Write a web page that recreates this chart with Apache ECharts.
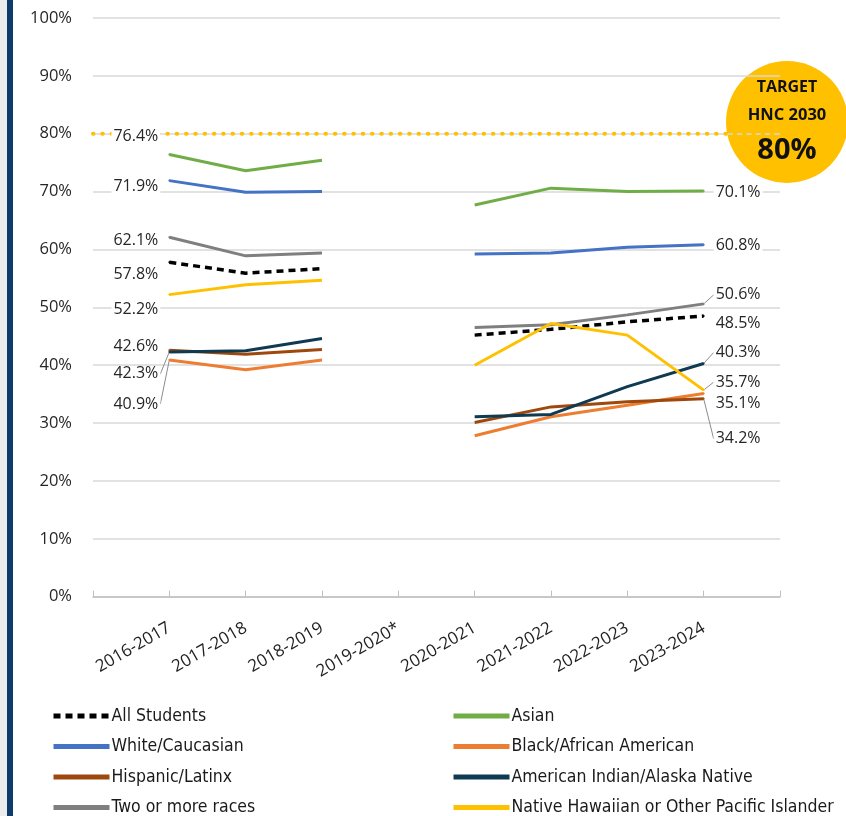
<!DOCTYPE html>
<html><head><meta charset="utf-8">
<script src="https://cdn.jsdelivr.net/npm/echarts@6/dist/echarts.min.js"></script>
<style>html,body{margin:0;padding:0;background:#fff}#c{width:846px;height:816px}</style>
</head><body><div id="c"></div>
<script>
// ---- data ----
const categories = ['2016-2017','2017-2018','2018-2019','2019-2020*','2020-2021','2021-2022','2022-2023','2023-2024'];
const yMin = 0, yMax = 100, yInterval = 10;
const targetValue = 80;
const allStudents = [57.8, 55.9, 56.7, null, 45.2, 46.2, 47.5, 48.5];
const asian       = [76.4, 73.6, 75.4, null, 67.7, 70.6, 70.0, 70.1];
const white       = [71.9, 69.9, 70.0, null, 59.2, 59.4, 60.4, 60.8];
const black       = [40.9, 39.2, 40.9, null, 27.8, 31.1, 33.1, 35.1];
const hispanic    = [42.6, 41.9, 42.7, null, 30.1, 32.8, 33.7, 34.2];
const amIndian    = [42.3, 42.5, 44.6, null, 31.1, 31.5, 36.3, 40.3];
const twoOrMore   = [62.1, 58.9, 59.4, null, 46.5, 47.0, 48.7, 50.6];
const nhpi        = [52.2, 53.9, 54.7, null, 40.0, 47.2, 45.2, 35.7];

// ---- style config ----
const FONT = "'Open Sans', 'Noto Sans', sans-serif";
const LEGFONT = "'DejaVu Sans Condensed', Roboto, sans-serif";
const seriesCfg = [
  {name:'All Students', data:allStudents, color:'#000000', dash:[7,5], ldy:12, rdy:7},
  {name:'Asian', data:asian, color:'#70ad47', ldy:-18, rdy:1},
  {name:'White/Caucasian', data:white, color:'#4472c4', ldy:6, rdy:1},
  {name:'Black/African American', data:black, color:'#ed7d31', ldy:44, rdy:10, lline:true},
  {name:'Hispanic/Latinx', data:hispanic, color:'#9e480e', ldy:-4, rdy:40, rline:true},
  {name:'American Indian/Alaska Native', data:amIndian, color:'#0e3a52', ldy:22, rdy:-11, lline:true, rline:true},
  {name:'Two or more races', data:twoOrMore, color:'#7f7f7f', ldy:3, rdy:-9, rline:true},
  {name:'Native Hawaiian or Other Pacific Islander', data:nhpi, color:'#ffc000', ldy:15, rdy:-8, rline:true}
];

const axisCats = [''].concat(categories, ['']);
const pad = arr => [null].concat(arr, [null]);
const firstIdx = 1, lastIdx = categories.length;

const series = [{
  name:'Target', type:'line', z:1, silent:true, symbol:'none',
  data: axisCats.map(() => targetValue),
  lineStyle:{color:'#ffc000', width:4, type:[0.5, 8.8], cap:'round'}
}];

seriesCfg.forEach(c => {
  const d = pad(c.data).map((v, i) => {
    if (i === firstIdx || i === lastIdx) {
      const left = i === firstIdx;
      return {
        value: v, symbol:'circle', symbolSize:2,
        label:{show:true, position: left ? 'left' : 'right', distance: left ? 8 : 9,
               formatter: v.toFixed(1) + '%'},
        labelLine:{show: !!(left ? c.lline : c.rline), lineStyle:{color:'#8c8c8c', width:1}, length2:0}
      };
    }
    return v;
  });
  series.push({
    name:c.name, type:'line', z:2, symbol:'none', connectNulls:false, silent:true,
    data:d, color:c.color,
    lineStyle:{color:c.color, width: c.dash ? 3.5 : 3, type: c.dash || 'solid'},
    itemStyle:{color:c.color},
    label:{fontFamily:FONT, fontSize:16, color:'#262626', backgroundColor:'#ffffff', padding:[0,2]},
    labelLayout: p => ({dy: p.dataIndex === firstIdx ? c.ldy : c.rdy}),
    emphasis:{disabled:true}
  });
});

const legendBase = {
  orient:'vertical', itemWidth:56, itemHeight:14, itemGap:12.5, selectedMode:false, height:130,
  textStyle:{fontFamily:LEGFONT, fontSize:17.5, lineHeight:14, color:'#1a1a1a', padding:[0,0,0,-3]},
  lineStyle:{width:5},
  itemStyle:{opacity:0}
};

const chart = echarts.init(document.getElementById('c'), null, {renderer:'canvas'});
chart.setOption({
  animation:false,
  backgroundColor:'#ffffff',
  grid:{left:93, right:66, top:18, bottom:219.3, containLabel:false},
  xAxis:{
    type:'category', data:axisCats, boundaryGap:false,
    axisLine:{lineStyle:{color:'#bfbfbf', width:1.5}},
    axisTick:{show:true, inside:true, length:6, interval:0, lineStyle:{color:'#bfbfbf'}},
    axisLabel:{interval:0, rotate:30, margin:30, fontFamily:FONT, fontSize:17, color:'#1f1f1f'},
    splitLine:{show:false}
  },
  yAxis:{
    type:'value', min:yMin, max:yMax, interval:yInterval,
    axisLine:{show:false}, axisTick:{show:false},
    axisLabel:{formatter:'{value}%', margin:21, fontFamily:FONT, fontSize:16.5, color:'#262626'},
    splitLine:{lineStyle:{color:'#d9d9d9', width:1.5}}
  },
  legend:[
    Object.assign({left:46, top:702, data:['All Students','White/Caucasian','Hispanic/Latinx','Two or more races']}, legendBase),
    Object.assign({left:446, top:702, data:['Asian','Black/African American','American Indian/Alaska Native','Native Hawaiian or Other Pacific Islander']}, legendBase)
  ],
  graphic:[
    {type:'rect', left:0, top:0, z:100, shape:{width:7, height:816}, style:{fill:'#ececec'}, silent:true},
    {type:'rect', left:7, top:0, z:100, shape:{width:6, height:816}, style:{fill:'#0d3b6a'}, silent:true},
    {type:'group', x:787, y:122, z:100, silent:true, children:[
      {type:'circle', shape:{cx:0, cy:0, r:61}, style:{fill:'#ffc000'}},
      {type:'text', x:0, y:-35, style:{text:'TARGET', fontFamily:FONT, fontWeight:'bold', fontSize:16, fill:'#111', align:'center', verticalAlign:'middle'}},
      {type:'text', x:0, y:-7, style:{text:'HNC 2030', fontFamily:FONT, fontWeight:'bold', fontSize:16.5, fill:'#111', align:'center', verticalAlign:'middle'}},
      {type:'text', x:0, y:29, style:{text:'80%', fontFamily:FONT, fontWeight:'bold', fontSize:29, fill:'#111', align:'center', verticalAlign:'middle'}}
    ]}
  ],
  series: series
});
</script>
</body></html>
